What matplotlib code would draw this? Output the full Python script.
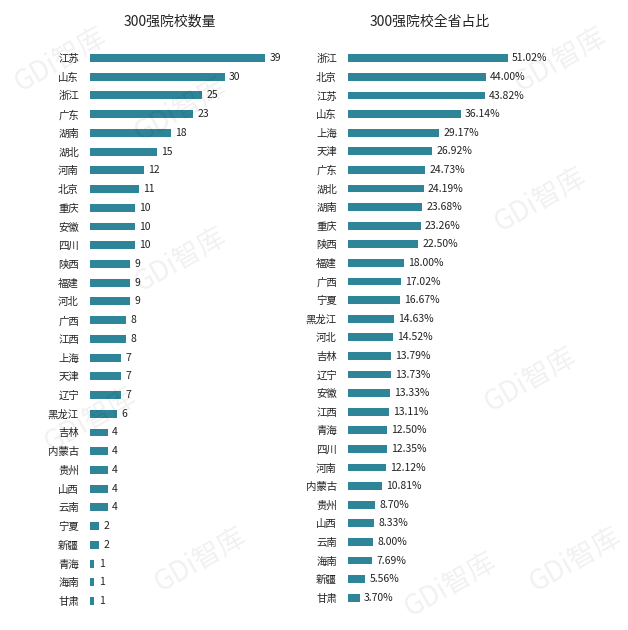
import matplotlib
matplotlib.use("Agg")
import matplotlib.pyplot as plt
from matplotlib import font_manager

names = {f.name for f in font_manager.fontManager.ttflist}
cands = ["Noto Sans CJK SC", "Noto Sans CJK JP", "Noto Sans CJK TC", "Noto Sans CJK KR"]
cands += sorted(n for n in names if "Sans CJK" in n)
chosen = [n for n in cands if n in names][:1]
plt.rcParams["font.family"] = "sans-serif"
plt.rcParams["font.sans-serif"] = chosen + ["DejaVu Sans"]

left_cats = ["江苏","山东","浙江","广东","湖南","湖北","河南","北京","重庆","安徽","四川","陕西","福建","河北","广西","江西","上海","天津","辽宁","黑龙江","吉林","内蒙古","贵州","山西","云南","宁夏","新疆","青海","海南","甘肃"]
left_vals = [39,30,25,23,18,15,12,11,10,10,10,9,9,9,8,8,7,7,7,6,4,4,4,4,4,2,2,1,1,1]

right_cats = ["浙江","北京","江苏","山东","上海","天津","广东","湖北","湖南","重庆","陕西","福建","广西","宁夏","黑龙江","河北","吉林","辽宁","安徽","江西","青海","四川","河南","内蒙古","贵州","山西","云南","海南","新疆","甘肃"]
right_vals = [51.02,44.00,43.82,36.14,29.17,26.92,24.73,24.19,23.68,23.26,22.50,18.00,17.02,16.67,14.63,14.52,13.79,13.73,13.33,13.11,12.50,12.35,12.12,10.81,8.70,8.33,8.00,7.69,5.56,3.70]

color = "#2e8597"
W, H = 628, 630
fig = plt.figure(figsize=(6.28, 6.30), dpi=100)

def panel(rect, cats, vals, xmax, fmt, title, title_x):
    ax = fig.add_axes(rect)
    n = len(cats)
    ax.barh(range(n), vals, height=0.42, color=color)
    ax.set_ylim(n - 0.5, -0.5)
    ax.set_xlim(0, xmax)
    ax.set_yticks(range(n))
    ax.set_yticklabels(cats, fontsize=7.5, color="#222222")
    ax.tick_params(axis="y", length=0, pad=8)
    ax.set_xticks([])
    for s in ax.spines.values():
        s.set_visible(False)
    for i, v in enumerate(vals):
        ax.text(v + xmax * 0.02, i, fmt(v), va="center", ha="left", fontsize=7.5, color="#222222")
    fig.text(title_x / W, 1 - 22 / H, title, ha="center", va="center", fontsize=10, color="#222222")
    return ax

panel([90 / W, 1 - 610.4 / H, 210 / W, 561.8 / H], left_cats, left_vals, 46.8,
      lambda v: f"{v}", "300强院校数量", 170)
panel([348 / W, 1 - 607 / H, 200 / W, 558 / H],
      right_cats, right_vals, 63.9, lambda v: f"{v:.2f}%", "300强院校全省占比", 430)

for (x, y) in [(60, 60), (180, 110), (540, 200), (180, 260), (530, 380), (90, 420), (200, 560), (450, 585), (575, 560), (560, 60)]:
    fig.text(x / W, 1 - y / H, "GDi智库", fontsize=20, color="#000000", alpha=0.06,
             rotation=30, ha="center", va="center")

fig.savefig("out.png", dpi=100, facecolor="white")
